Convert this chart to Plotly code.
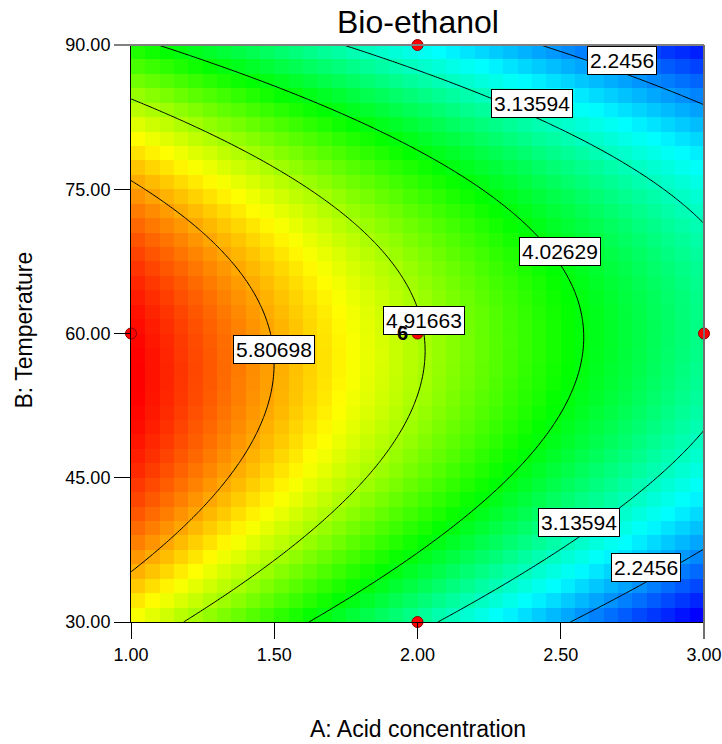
import numpy as np
import plotly.graph_objects as go

# ---------------- data ----------------
A_range = [1.0, 3.0]          # A: Acid concentration
B_range = [30.0, 90.0]        # B: Temperature
x_ticks = [1.00, 1.50, 2.00, 2.50, 3.00]
y_ticks = [30.00, 45.00, 60.00, 75.00, 90.00]

# quadratic response-surface model in coded units
coef_intercept = 4.953
coef_A = -1.633
coef_B = -0.240
coef_AB = 0.328
coef_A2 = 0.061
coef_B2 = -1.918

contour_levels = [2.2456, 3.13594, 4.02629, 4.91663, 5.80698]

# contour labels: value and where the box sits (A, B)
label_values = [2.2456, 3.13594, 4.02629, 4.91663, 5.80698, 3.13594, 2.2456]
label_positions = [(2.714, 88.44), (2.401, 83.94), (2.497, 68.48), (2.022, 61.4),
                   (1.498, 58.37), (2.563, 40.33), (2.797, 35.67)]

# design points
design_A = [1.0, 2.0, 2.0, 2.0, 3.0]
design_B = [60.0, 90.0, 60.0, 30.0, 60.0]
center_replicates = 6

n_cells = 40
n_fine = 161

FONT = "Liberation Sans, Arial, sans-serif"


def model(A, B):
    a = (A - 2.0) / 1.0
    b = (B - 60.0) / 30.0
    return (coef_intercept + coef_A * a + coef_B * b + coef_AB * a * b
            + coef_A2 * a * a + coef_B2 * b * b)


# blocky heat map (cell centres)
dx = (A_range[1] - A_range[0]) / n_cells
dy = (B_range[1] - B_range[0]) / n_cells
xc = A_range[0] + dx * (np.arange(n_cells) + 0.5)
yc = B_range[0] + dy * (np.arange(n_cells) + 0.5)
XC, YC = np.meshgrid(xc, yc)
ZC = model(XC, YC)

# fine grid for smooth contour lines
xf = np.linspace(A_range[0], A_range[1], n_fine)
yf = np.linspace(B_range[0], B_range[1], n_fine)
XF, YF = np.meshgrid(xf, yf)
ZF = model(XF, YF)

colorscale = [[0.0, "#0000FF"], [0.25, "#00FFFF"], [0.5, "#00FF00"],
              [0.75, "#FFFF00"], [1.0, "#FF0000"]]

fig = go.Figure()
fig.add_trace(go.Heatmap(x=xc, y=yc, z=ZC, colorscale=colorscale,
                         zmin=float(ZC.min()), zmax=float(ZC.max()),
                         showscale=False, zsmooth=False, hoverinfo="skip"))

step = (contour_levels[-1] - contour_levels[0]) / (len(contour_levels) - 1)
fig.add_trace(go.Contour(x=xf, y=yf, z=ZF, showscale=False,
                         contours=dict(coloring="none", start=contour_levels[0],
                                       end=contour_levels[-1] + 1e-6, size=step),
                         line=dict(color="black", width=1), hoverinfo="skip"))

fig.add_trace(go.Scatter(x=design_A, y=design_B, mode="markers", cliponaxis=False,
                         marker=dict(color="#FF0000", size=11,
                                     line=dict(color="#8B0000", width=1)),
                         hoverinfo="skip"))

annotations = []
for val, (la, lb) in zip(label_values, label_positions):
    annotations.append(dict(x=la, y=lb, xref="x", yref="y", text=str(val),
                            showarrow=False, bgcolor="white", bordercolor="black",
                            borderwidth=1, borderpad=2,
                            font=dict(family=FONT, size=21, color="black")))

annotations.append(dict(x=2.0, y=60.0, xref="x", yref="y", text=f"<b>{center_replicates}</b>",
                        showarrow=False, xshift=-15, yshift=1,
                        font=dict(family=FONT, size=20, color="black")))

annotations.append(dict(x=0.5, y=1, xref="paper", yref="paper", text="Bio-ethanol",
                        showarrow=False, yanchor="middle", yshift=23,
                        font=dict(family=FONT, size=32, color="black")))
annotations.append(dict(x=0.5, y=0, xref="paper", yref="paper", text="A: Acid concentration",
                        showarrow=False, yanchor="middle", yshift=-107,
                        font=dict(family=FONT, size=23, color="black")))
annotations.append(dict(x=0, y=0.5, xref="paper", yref="paper", text="B: Temperature",
                        showarrow=False, xanchor="center", xshift=-108, yshift=3,
                        textangle=-90,
                        font=dict(family=FONT, size=23, color="black")))

shapes = [
    dict(type="line", xref="x domain", yref="y domain", x0=-17 / 573, x1=1, y0=1, y1=1,
         line=dict(color="#808080", width=2), layer="above"),
    dict(type="line", xref="x domain", yref="y domain", x0=1, x1=1, y0=-17 / 577, y1=1,
         line=dict(color="#707070", width=2), layer="above"),
]

axis_common = dict(ticks="outside", ticklen=16, tickcolor="black", tickwidth=1,
                   showline=True, linecolor="black", linewidth=1, showgrid=False,
                   zeroline=False, automargin=False,
                   tickfont=dict(family=FONT, size=18, color="black"))

fig.update_layout(
    width=722, height=744,
    margin=dict(l=131, r=18, t=45, b=122, autoexpand=False),
    paper_bgcolor="white", plot_bgcolor="white",
    showlegend=False,
    xaxis=dict(range=A_range, tickvals=x_ticks, ticktext=[f"{v:.2f}" for v in x_ticks],
               **axis_common),
    yaxis=dict(range=B_range, tickvals=y_ticks, ticktext=[f"{v:.2f}" for v in y_ticks],
               **axis_common),
    annotations=annotations,
    shapes=shapes,
)

fig.write_html("out.html")
